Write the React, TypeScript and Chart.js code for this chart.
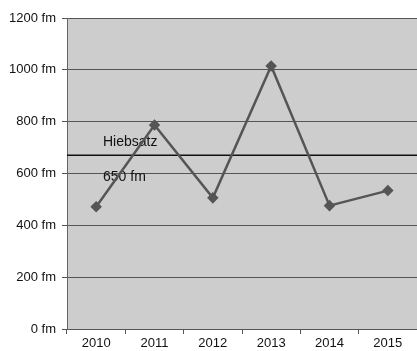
import React, { useEffect, useRef } from "react";
import { Chart, registerables } from "chart.js";

Chart.register(...registerables);

const years = ["2010", "2011", "2012", "2013", "2014", "2015"];
const volumes = [472, 787, 506, 1015, 476, 534];
const hiebsatzValue = 670;
const hiebsatzLabels = ["Hiebsatz", "650 fm"];
const yMin = 0;
const yMax = 1200;
const yStep = 200;

const plotBgPlugin = {
  id: "plotBg",
  beforeDraw(chart: any) {
    const { ctx, chartArea } = chart;
    ctx.save();
    ctx.fillStyle = "#cdcdcd";
    ctx.fillRect(chartArea.left, chartArea.top, chartArea.right - chartArea.left, chartArea.bottom - chartArea.top);
    ctx.restore();
  },
};

const hiebsatzPlugin = {
  id: "hiebsatz",
  beforeDatasetsDraw(chart: any) {
    const { ctx, chartArea, scales } = chart;
    const y = scales.y.getPixelForValue(hiebsatzValue);
    ctx.save();
    ctx.strokeStyle = "#111";
    ctx.lineWidth = 1.5;
    ctx.beginPath();
    ctx.moveTo(chartArea.left, y);
    ctx.lineTo(chartArea.right, y);
    ctx.stroke();
    ctx.fillStyle = "#111";
    ctx.font = "14px 'Liberation Sans', Arial, sans-serif";
    ctx.textBaseline = "middle";
    ctx.textAlign = "left";
    ctx.fillText(hiebsatzLabels[0], chartArea.left + 36, y - 13);
    ctx.fillText(hiebsatzLabels[1], chartArea.left + 36, y + 22);
    ctx.restore();
  },
};

export default function App() {
  const ref = useRef<HTMLCanvasElement | null>(null);
  useEffect(() => {
    if (!ref.current) return;
    const chart = new Chart(ref.current, {
      type: "line",
      data: {
        labels: years,
        datasets: [
          {
            data: volumes,
            borderColor: "#555555",
            backgroundColor: "#555555",
            borderWidth: 2.5,
            pointStyle: "rectRot",
            pointRadius: 4,
            pointBackgroundColor: "#555555",
            pointBorderColor: "#555555",
            tension: 0,
          },
        ],
      },
      options: {
        animation: false,
        responsive: false,
        maintainAspectRatio: false,
        layout: { autoPadding: false, padding: { top: 18, right: 0, left: 0, bottom: 0 } },
        plugins: { legend: { display: false }, tooltip: { enabled: false } },
        scales: {
          x: {
            offset: true,
            grid: {
              offset: true,
              drawOnChartArea: false,
              drawTicks: true,
              tickLength: 5,
              color: "#555",
            },
            border: { color: "#555", width: 1 },
            ticks: {
              color: "#111",
              font: { family: "'Liberation Sans', Arial, sans-serif", size: 13 },
              padding: 2,
              maxRotation: 0,
            },
            afterFit(scale: any) {
              scale.height = 22;
            },
          },
          y: {
            min: yMin,
            max: yMax,
            grid: { color: "#555", lineWidth: 1, tickLength: 5 },
            border: { color: "#666", width: 1 },
            ticks: {
              stepSize: yStep,
              color: "#111",
              font: { family: "'Liberation Sans', Arial, sans-serif", size: 13 },
              padding: 6,
              callback: (v: any) => v + " fm",
            },
            afterFit(scale: any) {
              scale.width = 67;
            },
          },
        },
      },
      plugins: [plotBgPlugin, hiebsatzPlugin],
    });
    return () => chart.destroy();
  }, []);
  return (
    <div style={{ position: "fixed", left: 0, top: 0, width: 417, height: 351, background: "#fff" }}>
      <canvas ref={ref} width={417} height={351} style={{ display: "block" }} />
    </div>
  );
}
